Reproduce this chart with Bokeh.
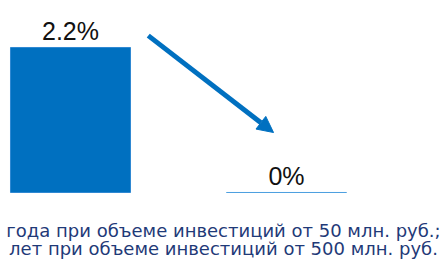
from bokeh.plotting import figure
from bokeh.models import Range1d, ColumnDataSource, Arrow, NormalHead, Label
from bokeh.core.properties import value
from bokeh.embed import file_html
from bokeh.resources import INLINE

# Data
positions = [0, 1]
values = [2.2, 0.0]
value_labels = ["2.2%", "0%"]
caption_lines = [
    "года при объеме инвестиций от 50 млн. руб.;",
    "лет при объеме инвестиций от 500 млн. руб.",
]

BLUE = "#0070C0"

src = ColumnDataSource(dict(
    x=positions, top=values, label=value_labels,
    edge=["#2F88D2", "#4EA0E0"],
))

p = figure(width=448, height=262, output_backend="svg", toolbar_location=None,
           x_range=Range1d(-0.32407, 1.75), y_range=Range1d(-1.0621, 2.9131),
           min_border=0, outline_line_color=None)
p.axis.visible = False
p.grid.visible = False
p.background_fill_color = "white"
p.border_fill_color = "white"

p.vbar(x="x", top="top", bottom=0, width=0.5556, source=src,
       fill_color=BLUE, line_color="edge", line_width=1)

p.text(x="x", y="top", text="label", source=src, y_offset=-16,
       text_align="center", text_baseline="alphabetic",
       text_font=value("Liberation Sans"), text_font_size="25px",
       text_color="#111111")

head = NormalHead(size=16, fill_color=BLUE, line_color=BLUE)
p.add_layout(Arrow(end=head,
                   x_start=positions[0] + 0.36, y_start=values[0] + 0.18,
                   x_end=positions[1] - 0.06, y_end=values[1] + 0.91,
                   line_color=BLUE, line_width=5))

for txt, yb in zip(caption_lines, [32, 14]):
    p.add_layout(Label(x=223, y=yb, x_units="screen", y_units="screen",
                       text=txt, text_align="center", text_baseline="alphabetic",
                       text_font="DejaVu Sans", text_font_size="18px",
                       text_color="#1F3A78"))

open("out.html", "w").write(file_html(p, INLINE))
